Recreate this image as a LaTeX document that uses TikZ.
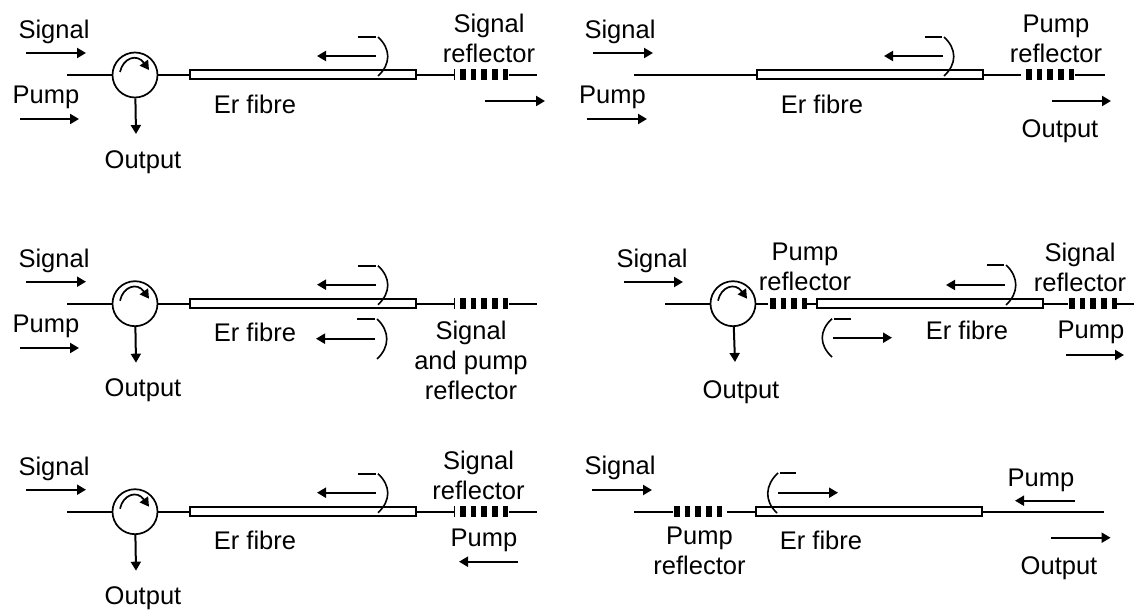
\documentclass[tikz,border=0pt]{standalone}
\usepackage{fontspec}
\setmainfont{Liberation Sans}
\usetikzlibrary{arrows.meta}
\tikzset{>={Triangle[length=9pt,width=10pt]}}
\tikzset{wire/.style={line width=1.6pt}}
\tikzset{flow/.style={line width=2pt,->}}
\tikzset{grating/.style={line width=11pt,dash pattern=on 5.5pt off 5.2pt}}
\tikzset{fibre/.style={draw,rectangle,line width=2pt,fill=white,minimum width=226pt,minimum height=9pt,inner sep=0pt}}
\tikzset{circulator/.style={draw,circle,line width=1.7pt,minimum size=45pt,inner sep=0pt}}
\tikzset{lbl/.style={font=\fontsize{25.5}{30}\selectfont,align=center,inner sep=0pt}}
\begin{document}
\begin{tikzpicture}[x=1pt,y=-1pt]
	\useasboundingbox (0,0) rectangle (1134,612);
	% the three panels on the left share their layout
	\foreach \i/\L in {a/75,c/303.7,e/511.7}{
		\node[circulator] (circ\i) at (135,\L) {};
		\node[fibre] (fib\i) at (303,\L) {};
		\coordinate (in\i) at (67,\L);
		\coordinate (gl\i) at (455,\L);
		\coordinate (ga\i) at (460,\L);
		\coordinate (gb\i) at (509,\L);
		\coordinate (end\i) at (537,\L);
		\draw[wire] (in\i) -- (circ\i);
		\draw[wire] (circ\i) -- (fib\i);
		\draw[wire,-{Bar[width=11pt,line width=0.6pt]}] (fib\i) -- (gl\i);
		\draw[grating] (ga\i) -- (gb\i);
		\draw[wire] (gb\i) -- (end\i);
		\node[lbl] (sig\i) at (54,\L-43) {Signal};
		\coordinate (sa\i) at (26,\L-22);
		\coordinate (sb\i) at (86,\L-22);
		\draw[flow] (sa\i) -- (sb\i);
		\node[lbl] (er\i) at (255,\L+29) {Er fibre};
		\node[lbl] (out\i) at (143,\L+87) {Output};
		\coordinate (ob\i) at (136,\L+59);
		\draw[flow] (circ\i) -- (ob\i);
		\draw[line width=1.7pt,->] (120,\L-3) .. controls +(3,-14) and +(-12,-17) .. (149,\L-5);
		\coordinate (ra\i) at (376,\L-19);
		\coordinate (rb\i) at (317,\L-19);
		\draw[flow] (ra\i) -- (rb\i);
		\draw[wire] (358,\L-38) -- (376,\L-38);
		\draw[wire] (378,\L-38) .. controls +(13,12) and +(13,-12) .. (378,\L+1);
	}
	% panel 1
	\node[lbl] (refa) at (489,38.5) {Signal\\reflector};
	\coordinate (oa) at (485,101);
	\coordinate (oc) at (545,101);
	\draw[flow] (oa) -- (oc);
	\node[lbl] (pua) at (46,97) {Pump};
	\coordinate (pa) at (20,119);
	\coordinate (pb) at (79,119);
	\draw[flow] (pa) -- (pb);
	% panel 3
	\node[lbl] (refc) at (471,360) {Signal\\and pump\\reflector};
	\node[lbl] (puc) at (46,326) {Pump};
	\coordinate (pc) at (20,348);
	\coordinate (pd) at (79,348);
	\draw[flow] (pc) -- (pd);
	\coordinate (rc) at (375,338.7);
	\coordinate (rd) at (316,338.7);
	\draw[flow] (rc) -- (rd);
	\draw[wire] (357,319) -- (375,319);
	\draw[wire] (377,319) .. controls +(13,12) and +(13,-12) .. (377,359);
	% panel 5
	\node[lbl] (refe) at (478.5,475.7) {Signal\\reflector};
	\node[lbl] (pue) at (484,540.7) {Pump};
	\coordinate (pe) at (518,561.7);
	\coordinate (pf) at (459,561.7);
	\draw[flow] (pe) -- (pf);
	% panel 2
	\node[fibre] (fibb) at (870,75) {};
	\coordinate (inb) at (634,75);
	\coordinate (glb) at (1021,75);
	\coordinate (gab) at (1026,75);
	\coordinate (gbb) at (1075,75);
	\coordinate (endb) at (1105,75);
	\draw[wire] (inb) -- (fibb);
	\draw[wire] (fibb) -- (glb);
	\draw[grating] (gab) -- (gbb);
	\draw[wire] (gbb) -- (endb);
	\node[lbl] (sigb) at (620,32) {Signal};
	\coordinate (sab) at (593,53);
	\coordinate (sbb) at (653,53);
	\draw[flow] (sab) -- (sbb);
	\node[lbl] (pub) at (612.5,97) {Pump};
	\coordinate (pg) at (587,119);
	\coordinate (ph) at (647,119);
	\draw[flow] (pg) -- (ph);
	\node[lbl] (erb) at (822,104) {Er fibre};
	\node[lbl] (refb) at (1056,38.5) {Pump\\reflector};
	\node[lbl] (outb) at (1060,131) {Output};
	\coordinate (oab) at (1052,101);
	\coordinate (obb) at (1111,101);
	\draw[flow] (oab) -- (obb);
	\coordinate (rab) at (943,56);
	\coordinate (rbb) at (884,56);
	\draw[flow] (rab) -- (rbb);
	\draw[wire] (925,37) -- (942,37);
	\draw[wire] (944,37) .. controls +(13,12) and +(13,-12) .. (944,76);
	% panel 4
	\node[circulator] (circd) at (733,303.7) {};
	\node[fibre] (fibd) at (930,303.7) {};
	\coordinate (ind) at (665,303.7);
	\coordinate (gad) at (770,303.7);
	\coordinate (gbd) at (807,303.7);
	\coordinate (gcd) at (768,303.7);
	\coordinate (gdd) at (1068,303.7);
	\coordinate (ged) at (1069,303.7);
	\coordinate (gfd) at (1117,303.7);
	\coordinate (endd) at (1134,303.7);
	\draw[wire] (ind) -- (circd);
	\draw[wire] (circd) -- (gcd);
	\draw[grating] (gad) -- (gbd);
	\draw[wire] (gbd) -- (fibd);
	\draw[wire] (fibd) -- (gdd);
	\draw[grating] (ged) -- (gfd);
	\draw[wire] (gfd) -- (endd);
	\node[lbl] (sigd) at (652,260.7) {Signal};
	\coordinate (sad) at (624,282);
	\coordinate (sbd) at (683,282);
	\draw[flow] (sad) -- (sbd);
	\coordinate (obd) at (735,362);
	\draw[flow] (circd) -- (obd);
	\node[lbl] (outd) at (741,392) {Output};
	\draw[line width=1.7pt,->] (718,300.7) .. controls +(3,-14) and +(-12,-17) .. (747,298.7);
	\node[lbl] (refd) at (805,267) {Pump\\reflector};
	\node[lbl] (refs) at (1080,267) {Signal\\reflector};
	\node[lbl] (erd) at (967,330.7) {Er fibre};
	\node[lbl] (pud) at (1091,332) {Pump};
	\coordinate (pi) at (1066,355);
	\coordinate (pj) at (1124,355);
	\draw[flow] (pi) -- (pj);
	\coordinate (rad) at (1004.5,285);
	\coordinate (rbd) at (946,285);
	\draw[flow] (rad) -- (rbd);
	\draw[wire] (987,265) -- (1004,265);
	\draw[wire] (1006,265) .. controls +(13,12) and +(13,-12) .. (1006,305);
	\coordinate (fa) at (833,337.7);
	\coordinate (fb) at (892,337.7);
	\draw[flow] (fa) -- (fb);
	\draw[wire] (851,318.7) -- (834,318.7);
	\draw[wire] (832,318.7) .. controls +(-13,12) and +(-13,-12) .. (832,357);
	% panel 6
	\node[fibre] (fibf) at (869,511.7) {};
	\coordinate (inf) at (634,511.7);
	\coordinate (gaf) at (672.5,511.7);
	\coordinate (gbf) at (674,511.7);
	\coordinate (gcf) at (723,511.7);
	\coordinate (gdf) at (726.5,511.7);
	\coordinate (endf) at (1104,511.7);
	\draw[wire] (inf) -- (gaf);
	\draw[grating] (gbf) -- (gcf);
	\draw[wire] (gdf) -- (fibf);
	\draw[wire] (fibf) -- (endf);
	\node[lbl] (sigf) at (620,468) {Signal};
	\coordinate (saf) at (592,490);
	\coordinate (sbf) at (652,490);
	\draw[flow] (saf) -- (sbf);
	\node[lbl] (reff) at (699.5,550.7) {Pump\\reflector};
	\node[lbl] (erf) at (821,540.7) {Er fibre};
	\node[lbl] (puf) at (1041,480) {Pump};
	\coordinate (pk) at (1075,500.7);
	\coordinate (pl) at (1015,500.7);
	\draw[flow] (pk) -- (pl);
	\coordinate (oaf) at (1051,537.7);
	\coordinate (obf) at (1110.6,537.7);
	\draw[flow] (oaf) -- (obf);
	\node[lbl] (outf) at (1059,568) {Output};
	\coordinate (fc) at (778,492.7);
	\coordinate (fd) at (838,492.7);
	\draw[flow] (fc) -- (fd);
	\draw[wire] (796,473) -- (780,473);
	\draw[wire] (778,473) .. controls +(-13,12) and +(-13,-12) .. (777,513);
\end{tikzpicture}
\end{document}
